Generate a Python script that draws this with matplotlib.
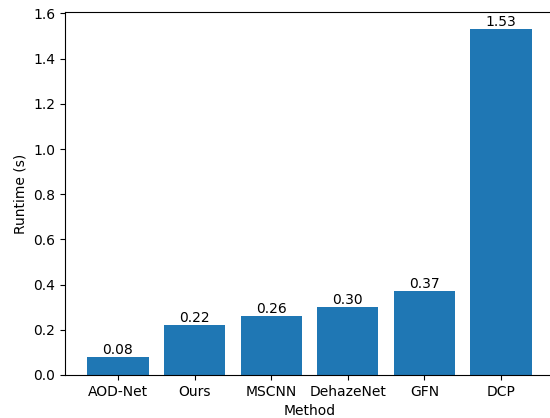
import matplotlib
matplotlib.use("Agg")
import matplotlib.pyplot as plt

methods = ["AOD-Net", "Ours", "MSCNN", "DehazeNet", "GFN", "DCP"]
runtimes = [0.08, 0.22, 0.26, 0.30, 0.37, 1.53]

fig, ax = plt.subplots(figsize=(5.5, 4.18), dpi=100)
# the reference is cropped on the right, so the axes run past the image edge
fig.subplots_adjust(left=65 / 550, right=554 / 550, top=1 - 12 / 418, bottom=1 - 375 / 418)
ax.spines["right"].set_visible(False)

bars = ax.bar(methods, runtimes, color="#1f77b4")
for b, v in zip(bars, runtimes):
    ax.text(b.get_x() + b.get_width() / 2, v, f"{v:.2f}", ha="center", va="bottom")

ax.set_xlabel("Method")
ax.set_ylabel("Runtime (s)")

fig.savefig("out.png")
